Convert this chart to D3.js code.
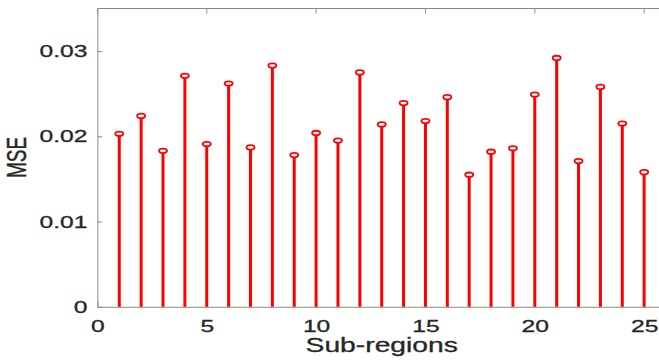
<!DOCTYPE html>
<html>
<head>
<meta charset="utf-8">
<script src="https://cdn.jsdelivr.net/npm/d3@7"></script>
<style>
  html, body { margin: 0; padding: 0; background: #fff; }
  svg { display: block; }
  text { font-family: "Liberation Sans", Arial, Helvetica, sans-serif; fill: #262626; stroke: #262626; stroke-width: 0.3px; }
</style>
</head>
<body>
<svg id="chart" width="659" height="360"></svg>
<script>
// Mean squared error per sub-region
const regions = [1, 2, 3, 4, 5, 6, 7, 8, 9, 10, 11, 12, 13, 14, 15, 16, 17, 18, 19, 20, 21, 22, 23, 24, 25];
const mse = [0.0203, 0.0224, 0.0183, 0.0271, 0.0191, 0.0262, 0.0187, 0.0283, 0.0178, 0.0204,
             0.0195, 0.0275, 0.0214, 0.0239, 0.0218, 0.0246, 0.0155, 0.0182, 0.0186, 0.0249,
             0.0292, 0.0171, 0.0258, 0.0215, 0.0158];
const xTicks = [0, 5, 10, 15, 20, 25];
const yTicks = [0, 0.01, 0.02, 0.03];
const xLabel = "Sub-regions";
const yLabel = "MSE";

const svg = d3.select("#chart");
const plotLeft = 97.4, plotBottom = 306.8, plotTop = 8.5;
const unit = 21.87;
const stretch = 1.45;   // horizontal text stretch
const axisColor = "#8a8a8a";

const x = d3.scaleLinear().domain([0, 26]).range([plotLeft, plotLeft + 26 * unit]);
const y = d3.scaleLinear().domain([0, 0.035]).range([plotBottom, plotTop]);
const plotRight = x(26);

// axes box
const frame = svg.append("g");
frame.append("line").attr("x1", plotLeft).attr("x2", plotRight).attr("y1", plotTop).attr("y2", plotTop)
  .attr("stroke", axisColor).attr("stroke-width", 1);
frame.append("line").attr("x1", plotRight).attr("x2", plotRight).attr("y1", plotTop).attr("y2", plotBottom)
  .attr("stroke", axisColor).attr("stroke-width", 1);

// top and right ticks (inward)
frame.selectAll(".tt").data(xTicks).join("line")
  .attr("x1", d => x(d)).attr("x2", d => x(d)).attr("y1", plotTop).attr("y2", plotTop + 5)
  .attr("stroke", axisColor);
frame.selectAll(".rt").data(yTicks).join("line")
  .attr("x1", plotRight).attr("x2", plotRight - 5).attr("y1", d => y(d)).attr("y2", d => y(d))
  .attr("stroke", axisColor);

// left axis
const gy = svg.append("g").attr("transform", `translate(${plotLeft},0)`)
  .call(d3.axisLeft(y).tickValues(yTicks).tickSizeInner(-5).tickSizeOuter(0)
    .tickFormat(d => d === 0 ? "0" : d3.format(".2f")(d)));
gy.selectAll("path.domain").attr("stroke", axisColor);
gy.selectAll(".tick line").attr("stroke", axisColor);
gy.selectAll(".tick text")
  .attr("x", null)
  .attr("transform", `translate(-10,0) scale(${stretch},1)`)
  .attr("text-anchor", "end")
  .style("font-size", "17px").attr("fill", "#262626");

// bottom axis
const gx = svg.append("g").attr("transform", `translate(0,${plotBottom})`)
  .call(d3.axisBottom(x).tickValues(xTicks).tickSizeInner(-5).tickSizeOuter(0));
gx.selectAll("path.domain").attr("stroke", axisColor);
gx.selectAll(".tick line").attr("stroke", axisColor);
gx.selectAll(".tick text")
  .attr("y", 13)
  .attr("transform", `scale(${stretch},1)`)
  .style("font-size", "17px").attr("fill", "#262626");
gy.attr("font-family", null);
gx.attr("font-family", null);

// stems
const data = regions.map((r, i) => ({ r, v: mse[i] }));
svg.append("g").selectAll("line").data(data).join("line")
  .attr("x1", d => x(d.r)).attr("x2", d => x(d.r))
  .attr("y1", y(0)).attr("y2", d => y(d.v))
  .attr("stroke", "#ff0000").attr("stroke-width", 3);

// markers
svg.append("g").selectAll("ellipse").data(data).join("ellipse")
  .attr("cx", d => x(d.r)).attr("cy", d => y(d.v))
  .attr("rx", 4).attr("ry", 2.2)
  .attr("fill", "#fff").attr("stroke", "#ff0000").attr("stroke-width", 1.8);

// axis labels
svg.append("text")
  .attr("transform", `translate(${x(13)},351.5) scale(${stretch},1)`)
  .attr("text-anchor", "middle")
  .style("font-size", "19.5px")
  .text(xLabel);

svg.append("text")
  .attr("transform", `translate(25.5,157.5) scale(${stretch},1) rotate(-90)`)
  .attr("text-anchor", "middle")
  .style("font-size", "19px")
  .text(yLabel);
</script>
</body>
</html>
